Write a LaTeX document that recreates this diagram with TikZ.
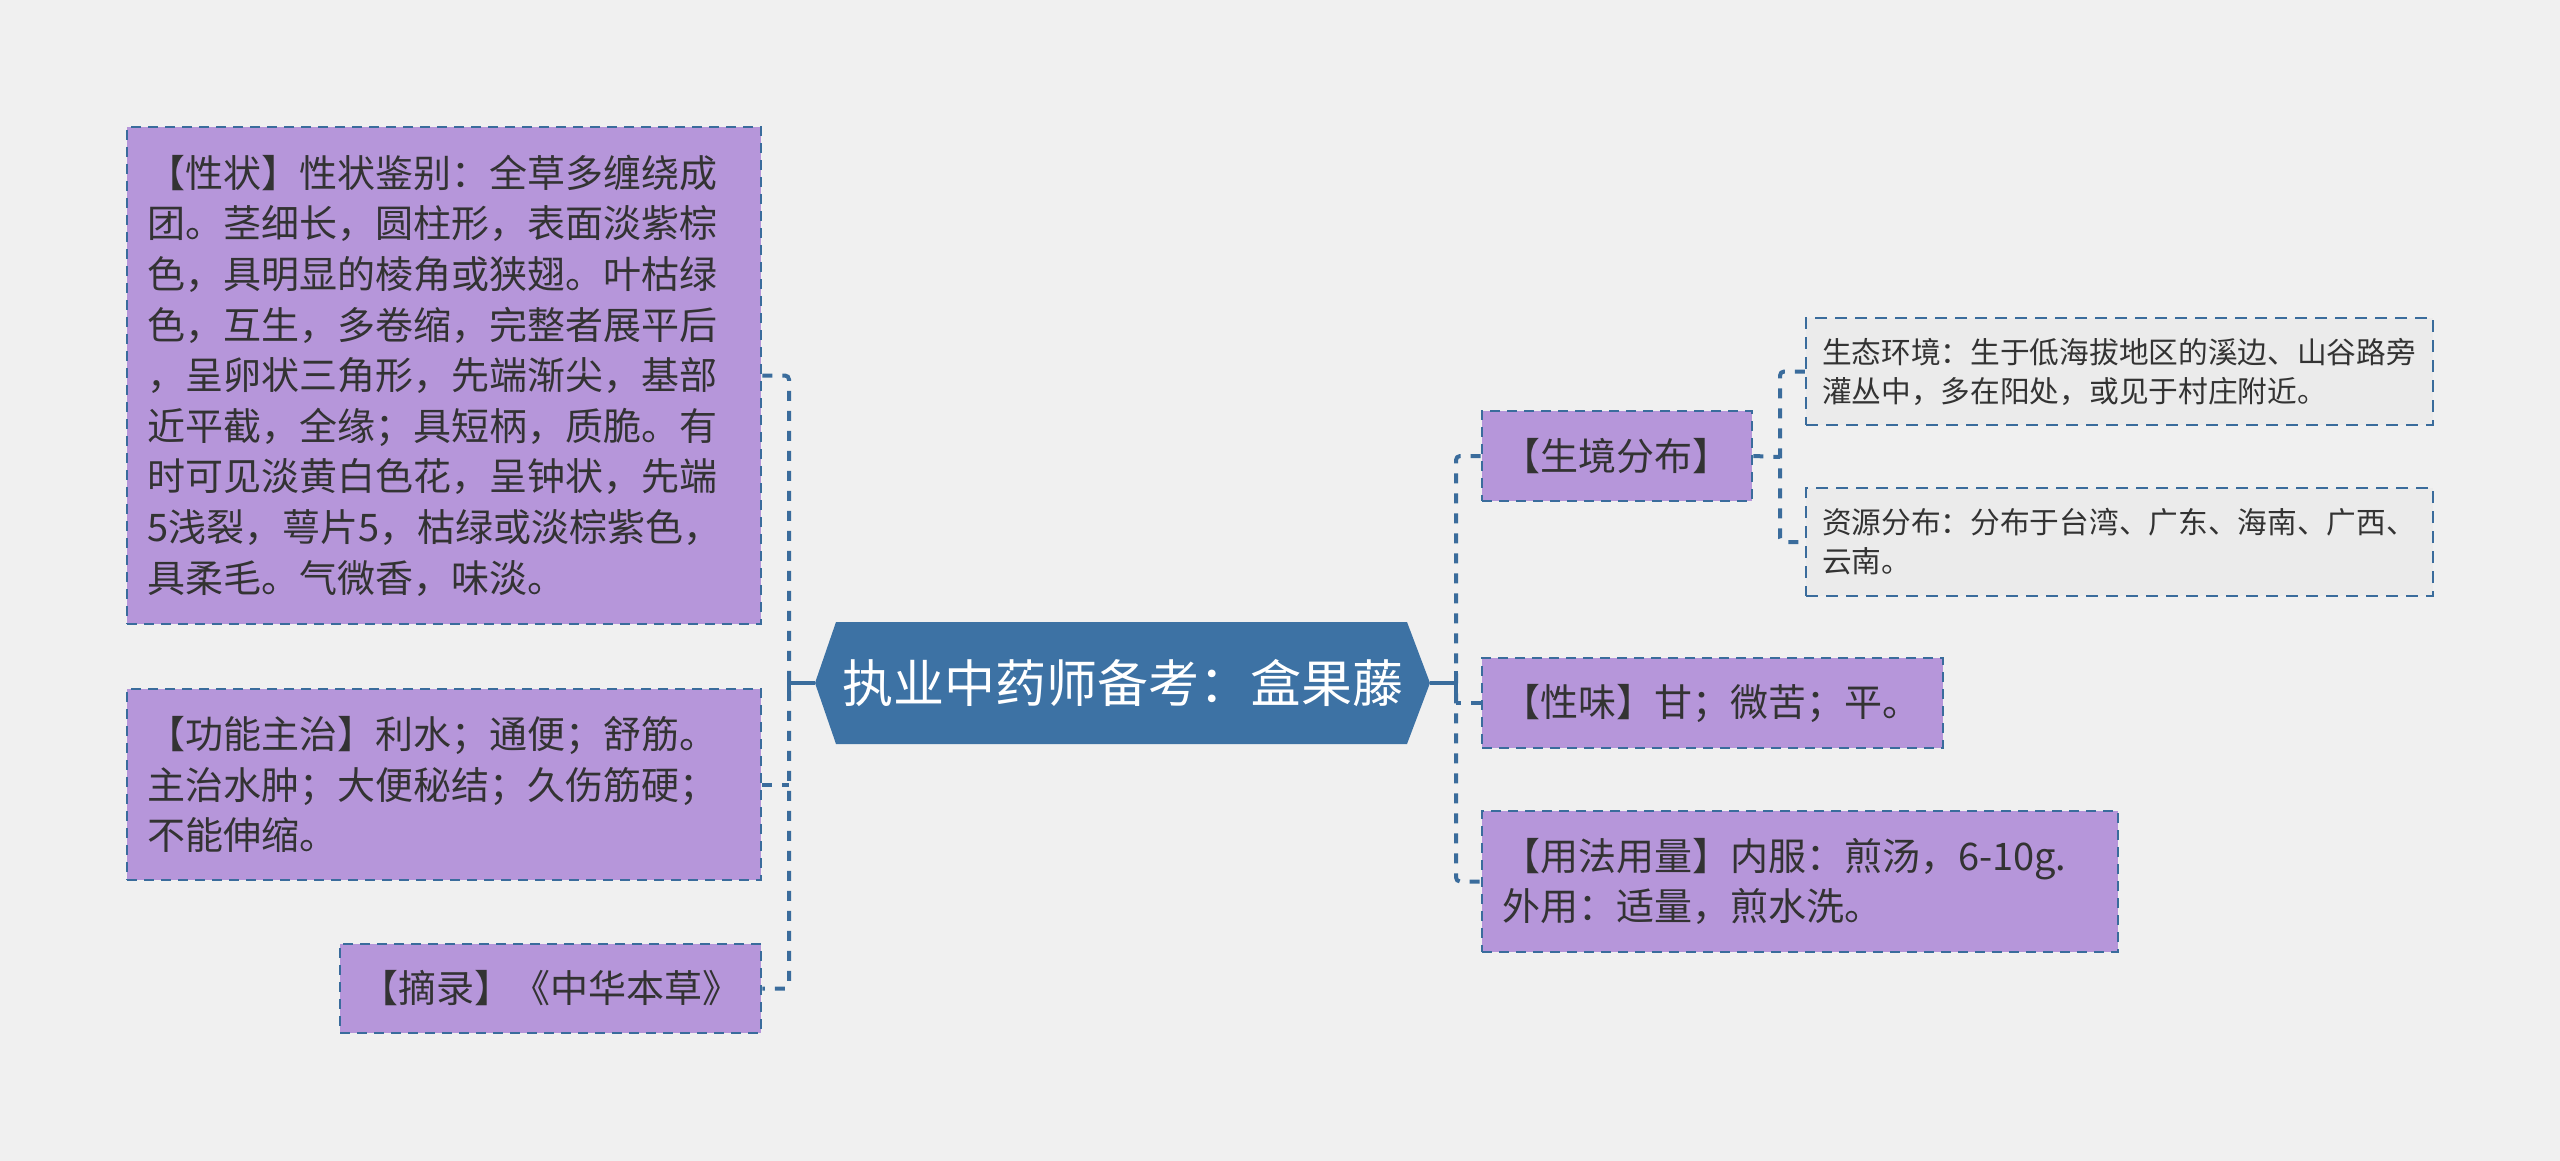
\documentclass[tikz,border=0pt]{standalone}
\usepackage{fontspec}
\setmainfont{Noto Sans CJK SC}
\definecolor{bgc}{HTML}{F0F0F0}
\definecolor{linec}{HTML}{3A6C9C}
\definecolor{hexc}{HTML}{3D72A4}
\definecolor{purp}{HTML}{B696DA}
\definecolor{subg}{HTML}{EBEBEB}
\definecolor{txt}{HTML}{333333}
\tikzset{
  conn/.style={draw=linec, line width=4pt, dash pattern=on 10pt off 10pt, rounded corners=4pt},
  solidconn/.style={draw=linec, line width=4pt},
  pbox/.style={draw=linec, line width=2.8pt, dash pattern=on 10pt off 7pt, fill=purp,
     text=txt, inner xsep=20pt, inner ysep=0pt, align=left,
     font=\fontsize{38pt}{50.6pt}\selectfont},
  sbox/.style={draw=linec, line width=2.2pt, dash pattern=on 12pt off 8pt, fill=subg,
     text=txt, inner xsep=16pt, inner ysep=0pt, align=left,
     font=\fontsize{29.7pt}{39pt}\selectfont},
}
\begin{document}
\begin{tikzpicture}[x=1pt,y=-1pt]
\useasboundingbox (0,0) rectangle (2560,1161);
\fill[bgc] (0,0) rectangle (2560,1161);
% central hexagon
\fill[hexc] (836,622) -- (1407,622) -- (1430,683) -- (1407,744) -- (836,744) -- (815,683) -- cycle;
\node[minimum width=615pt, minimum height=122pt, inner sep=0pt, text=white,
  font=\fontsize{51pt}{60pt}\selectfont] (c) at (1122.5,683) {执业中药师备考：盒果藤};
% left boxes
\node[pbox, text width=594pt, minimum height=497pt] (n1) at (444,375.5) {%
【性状】性状鉴别：全草多缠绕成\\
团。茎细长，圆柱形，表面淡紫棕\\
色，具明显的棱角或狭翅。叶枯绿\\
色，互生，多卷缩，完整者展平后\\
，呈卵状三角形，先端渐尖，基部\\
近平截，全缘；具短柄，质脆。有\\
时可见淡黄白色花，呈钟状，先端\\
5浅裂，萼片5，枯绿或淡棕紫色，\\
具柔毛。气微香，味淡。};
\node[pbox, text width=594pt, minimum height=191pt] (n2) at (444,784.5) {%
【功能主治】利水；通便；舒筋。\\
主治水肿；大便秘结；久伤筋硬；\\
不能伸缩。};
\node[pbox, text width=381pt, minimum height=89pt] (n3) at (550.5,988.5) {【摘录】《中华本草》};
% right boxes
\node[pbox, text width=230pt, minimum height=90pt] (r1) at (1617,456) {【生境分布】};
\node[pbox, text width=421pt, minimum height=90pt] (r2) at (1712.5,703) {【性味】甘；微苦；平。};
\node[pbox, text width=596pt, minimum height=141pt] (r3) at (1800,881.5) {%
【用法用量】内服：煎汤，6-10g.\\
外用：适量，煎水洗。};
% sub boxes
\node[sbox, text width=595pt, minimum height=107pt] (s1) at (2119.5,371.5) {%
生态环境：生于低海拔地区的溪边、山谷路旁\\
灌丛中，多在阳处，或见于村庄附近。};
\node[sbox, text width=595pt, minimum height=108pt] (s2) at (2119.5,542) {%
资源分布：分布于台湾、广东、海南、广西、\\
云南。};
% connectors
\coordinate (lt) at (789,683);
\coordinate (rt) at (1456,683);
\coordinate (st) at (1780,457);
\draw[conn] (n1.east) -| (lt) |- (n3.east);
\draw[conn] (n2.east) -- (n2.east -| lt);
\draw[solidconn] (c.west) -- (lt);
\draw[solidconn] ([yshift=-12pt]lt) -- ([yshift=12pt]lt);
\draw[conn] (r1.west) -| (rt) |- (r3.west);
\draw[conn] (r2.west) -- (r2.west -| rt);
\draw[solidconn] (c.east) -- (rt);
\draw[solidconn] ([yshift=-12pt]rt) -- ([yshift=12pt]rt);
\draw[conn] (s1.west) -| (st) |- (s2.west);
\draw[conn] (r1.east) -- (st);
\end{tikzpicture}
\end{document}
